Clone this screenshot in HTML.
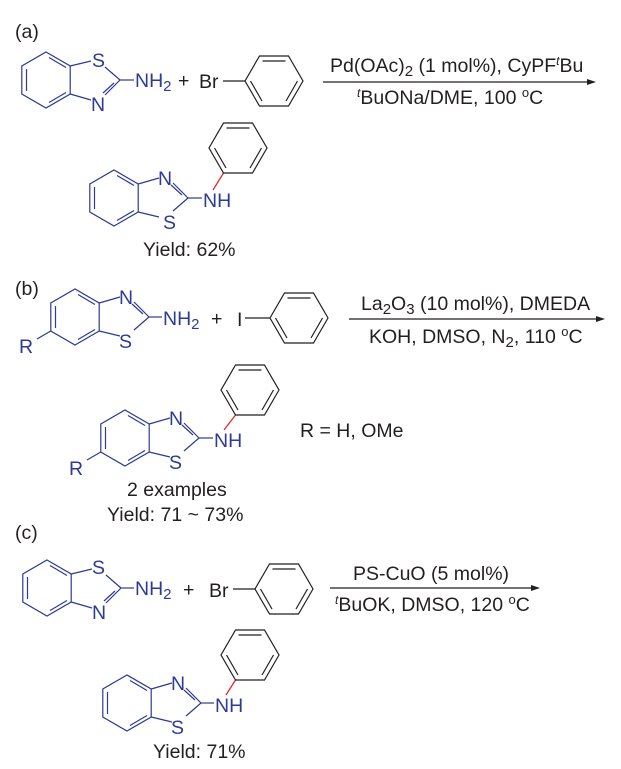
<!DOCTYPE html>
<html><head><meta charset="utf-8"><style>
html,body{margin:0;padding:0;background:#fff}
svg{display:block}
text{font-family:"Liberation Sans",Arial,sans-serif;font-size:19.5px;fill:#231f20}
.b{fill:#2e3a93}
.bl{stroke:#2e3a93;stroke-width:1.2;fill:none}
.k{stroke:#231f20;stroke-width:1.2;fill:none}
</style></head><body>
<svg width="621" height="769" viewBox="0 0 621 769" xmlns="http://www.w3.org/2000/svg">
<defs>
<g id="bt">
 <polygon class="bl" points="0,-28 24.2,-14 24.2,14 0,28 -24.2,14 -24.2,-14"/>
 <line class="bl" x1="-19.5" y1="-11" x2="-19.5" y2="11"/>
 <line class="bl" x1="3" y1="-22.5" x2="20" y2="-12.5"/>
 <line class="bl" x1="3" y1="22.5" x2="20" y2="12.5"/>
 <line class="bl" x1="24.2" y1="-14" x2="45" y2="-19"/>
 <line class="bl" x1="59" y1="-13" x2="74" y2="0"/>
 <line class="bl" x1="74" y1="0" x2="59" y2="15"/>
 <line class="bl" x1="68" y1="3" x2="57" y2="13"/>
 <line class="bl" x1="45" y1="20" x2="24.2" y2="14"/>
</g>
<g id="ph">
 <polygon class="k" points="29,0 14.5,25 -14.5,25 -29,0 -14.5,-25 14.5,-25"/>
 <line class="k" x1="-11.5" y1="-20" x2="11.5" y2="-20"/>
 <line class="k" x1="23.5" y1="0" x2="12" y2="20"/>
 <line class="k" x1="-23.5" y1="0" x2="-12" y2="20"/>
</g>
</defs>

<!-- (a) -->
<text x="15" y="38">(a)</text>
<use href="#bt" transform="translate(46,80)"/>
<text class="b" x="92" y="67">S</text>
<text class="b" x="91" y="111">N</text>
<line class="bl" x1="120" y1="80" x2="134" y2="80"/>
<text class="b" x="135" y="87">NH<tspan font-size="15" dy="4">2</tspan></text>
<text x="178" y="87">+</text>
<text x="199" y="88">Br</text>
<line class="k" x1="223" y1="81" x2="245" y2="81"/>
<use href="#ph" transform="translate(274,81)"/>
<line class="k" x1="323" y1="82" x2="592" y2="82"/>
<polygon points="596,82 587,79 587,85" fill="#231f20"/>
<text x="330" y="72">Pd(OAc)<tspan font-size="15" dy="4">2</tspan><tspan dy="-4"> (1 mol%), CyPF</tspan><tspan font-size="12" font-style="italic" dy="-7">t</tspan><tspan dy="7">Bu</tspan></text>
<text x="357" y="104"><tspan font-size="12" font-style="italic" dy="-7">t</tspan><tspan dy="7">BuONa/DME, 100 </tspan><tspan font-size="13" dy="-7">o</tspan><tspan dy="7">C</tspan></text>

<use href="#bt" transform="translate(114,198) scale(1,-1)"/>
<text class="b" x="158" y="185">N</text>
<text class="b" x="163" y="229">S</text>
<line class="bl" x1="188" y1="198" x2="202" y2="198"/>
<text class="b" x="203" y="207">NH</text>
<line x1="213" y1="190" x2="223.5" y2="173" stroke="#e0202a" stroke-width="1.2"/>
<use href="#ph" transform="translate(238,148)"/>
<text x="143" y="256">Yield: 62%</text>

<!-- (b) -->
<text x="15" y="295">(b)</text>
<use href="#bt" transform="translate(75,317) scale(1,-1)"/>
<text class="b" x="119" y="304">N</text>
<text class="b" x="119" y="348">S</text>
<line class="bl" x1="149" y1="317" x2="162" y2="317"/>
<text class="b" x="163" y="325">NH<tspan font-size="15" dy="4">2</tspan></text>
<line class="bl" x1="50.8" y1="331" x2="37" y2="339"/>
<text class="b" x="19" y="353">R</text>
<text x="211" y="325">+</text>
<text x="237" y="326">I</text>
<line class="k" x1="245" y1="318" x2="270" y2="318"/>
<use href="#ph" transform="translate(299,318)"/>
<line class="k" x1="349" y1="319" x2="601" y2="319"/>
<polygon points="605,319 596,316 596,322" fill="#231f20"/>
<text x="361" y="310">La<tspan font-size="15" dy="4">2</tspan><tspan dy="-4">O</tspan><tspan font-size="15" dy="4">3</tspan><tspan dy="-4"> (10 mol%), DMEDA</tspan></text>
<text x="369" y="343">KOH, DMSO, N<tspan font-size="15" dy="4">2</tspan><tspan dy="-4">, 110 </tspan><tspan font-size="13" dy="-7">o</tspan><tspan dy="7">C</tspan></text>

<use href="#bt" transform="translate(125,438) scale(1,-1)"/>
<text class="b" x="169" y="425">N</text>
<text class="b" x="169" y="469">S</text>
<line class="bl" x1="199" y1="438" x2="213" y2="438"/>
<text class="b" x="214" y="447">NH</text>
<line x1="224" y1="430" x2="235.5" y2="415" stroke="#e0202a" stroke-width="1.2"/>
<use href="#ph" transform="translate(250,390)"/>
<line class="bl" x1="100.8" y1="452" x2="87" y2="460"/>
<text class="b" x="69" y="475">R</text>
<text x="300" y="437">R = H, OMe</text>
<text x="127" y="496">2 examples</text>
<text x="107" y="521">Yield: 71 ~ 73%</text>

<!-- (c) -->
<text x="15" y="539">(c)</text>
<use href="#bt" transform="translate(47,588)"/>
<text class="b" x="92" y="574">S</text>
<text class="b" x="92" y="619">N</text>
<line class="bl" x1="121" y1="588" x2="134" y2="588"/>
<text class="b" x="135" y="595">NH<tspan font-size="15" dy="4">2</tspan></text>
<text x="183" y="596">+</text>
<text x="209" y="597">Br</text>
<line class="k" x1="233" y1="589" x2="255" y2="589"/>
<use href="#ph" transform="translate(284,589)"/>
<line class="k" x1="330" y1="588" x2="536" y2="588"/>
<polygon points="540,588 531,585 531,591" fill="#231f20"/>
<text x="353" y="580">PS-CuO (5 mol%)</text>
<text x="335" y="611"><tspan font-size="12" font-style="italic" dy="-7">t</tspan><tspan dy="7">BuOK, DMSO, 120 </tspan><tspan font-size="13" dy="-7">o</tspan><tspan dy="7">C</tspan></text>

<use href="#bt" transform="translate(127,703) scale(1,-1)"/>
<text class="b" x="171" y="690">N</text>
<text class="b" x="171" y="734">S</text>
<line class="bl" x1="201" y1="703" x2="214" y2="703"/>
<text class="b" x="215" y="712">NH</text>
<line x1="226" y1="695" x2="235.5" y2="680" stroke="#e0202a" stroke-width="1.2"/>
<use href="#ph" transform="translate(250,655)"/>
<text x="153" y="758">Yield: 71%</text>
</svg>
</body></html>
